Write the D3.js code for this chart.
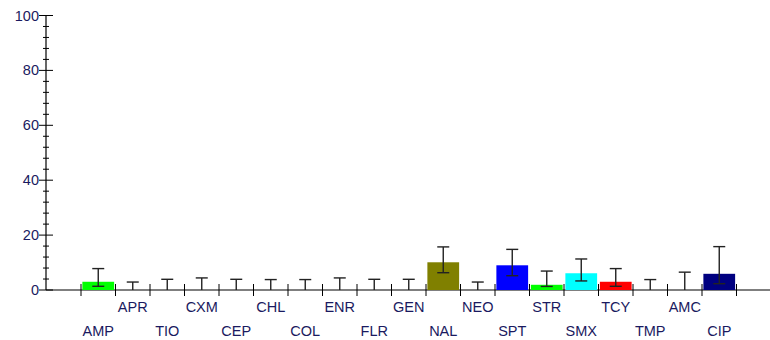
<!DOCTYPE html>
<html>
<head>
<meta charset="utf-8">
<script src="https://cdn.jsdelivr.net/npm/d3@7"></script>
<style>
  body { margin: 0; background: #fff; }
  svg { display: block; font-family: "Liberation Sans", Arial, sans-serif; }
</style>
</head>
<body>
<div id="chart"></div>
<script>
const categories = ["AMP", "APR", "TIO", "CXM", "CEP", "CHL", "COL", "ENR", "FLR", "GEN",
  "NAL", "NEO", "SPT", "STR", "SMX", "TCY", "TMP", "AMC", "CIP"];
const values = [3.0, 0, 0, 0, 0, 0, 0, 0, 0, 0, 10.1, 0, 9.0, 1.9, 6.1, 3.0, 0, 0, 5.9];
const lower = [1.35, 0, 0, 0, 0, 0, 0, 0, 0, 0, 6.3, 0, 5.2, 1.3, 3.3, 1.35, 0, 0, 2.3];
const upper = [7.8, 2.9, 3.9, 4.4, 3.9, 3.8, 3.8, 4.4, 3.9, 3.9, 15.7, 2.9, 14.8, 6.9, 11.3, 7.8, 3.8, 6.5, 15.8];
const colors = ["#00ff00", null, null, null, null, null, null, null, null, null,
  "#808000", null, "#0000ff", "#00ff00", "#00ffff", "#ff0000", null, null, "#000080"];
const yTicks = [0, 20, 40, 60, 80, 100];

const data = categories.map((c, i) => ({
  name: c, value: values[i], lo: lower[i], hi: upper[i], color: colors[i], idx: i
}));

const width = 770;
const height = 340;
const axisX = 46;
const textColor = "#1a1a60";

const svg = d3.select("#chart")
  .append("svg")
  .attr("width", width)
  .attr("height", height);

const y = d3.scaleLinear()
  .domain([0, 100])
  .range([290, 15.5]);

const x = d3.scaleBand()
  .domain(categories)
  .range([81, 736.5])
  .paddingInner(0.08)
  .paddingOuter(0.04);

const step = x.step();
const bandStart = d => x(d) - step * x.paddingInner() / 2;

// y axis: minor ticks every 4, major every 20
const yAxis = svg.append("g");
yAxis.append("line")
  .attr("x1", axisX).attr("x2", axisX)
  .attr("y1", y(100)).attr("y2", y(0))
  .attr("stroke", "#000").attr("stroke-width", 1.2);

yAxis.selectAll(".minor")
  .data(d3.range(0, 101, 4).filter(v => v % 20 !== 0))
  .join("line")
  .attr("x1", axisX - 3).attr("x2", axisX + 3)
  .attr("y1", d => y(d)).attr("y2", d => y(d))
  .attr("stroke", "#000");

yAxis.selectAll(".major")
  .data(yTicks)
  .join("line")
  .attr("x1", axisX - 7).attr("x2", axisX + 7)
  .attr("y1", d => y(d)).attr("y2", d => y(d))
  .attr("stroke", "#000");

yAxis.selectAll("text")
  .data(yTicks)
  .join("text")
  .attr("x", axisX - 7)
  .attr("y", d => y(d))
  .attr("dy", "0.35em")
  .attr("text-anchor", "end")
  .attr("fill", textColor)
  .style("font-size", "14.5px")
  .text(d => d);

// x axis baseline and category ticks
svg.append("line")
  .attr("x1", axisX).attr("x2", width)
  .attr("y1", y(0)).attr("y2", y(0))
  .attr("stroke", "#000").attr("stroke-width", 1.2);

const bounds = categories.map(bandStart).concat([bandStart(categories[categories.length - 1]) + step]);
svg.append("g").selectAll("line")
  .data(bounds)
  .join("line")
  .attr("x1", d => d).attr("x2", d => d)
  .attr("y1", y(0) - 6).attr("y2", y(0) + 6)
  .attr("stroke", "#000");

// bars
svg.append("g").selectAll("rect")
  .data(data.filter(d => d.value > 0))
  .join("rect")
  .attr("x", d => x(d.name))
  .attr("y", d => y(d.value))
  .attr("width", x.bandwidth())
  .attr("height", d => y(0) - y(d.value))
  .attr("fill", d => d.color);

// error bars
const err = svg.append("g").attr("stroke", "#222").attr("stroke-width", 1.4);
data.forEach(d => {
  const cx = x(d.name) + x.bandwidth() / 2;
  err.append("line")
    .attr("x1", cx).attr("x2", cx)
    .attr("y1", y(d.lo)).attr("y2", y(d.hi));
  err.append("line")
    .attr("x1", cx - 6).attr("x2", cx + 6)
    .attr("y1", y(d.hi)).attr("y2", y(d.hi));
  if (d.lo > 0) {
    err.append("line")
      .attr("x1", cx - 6).attr("x2", cx + 6)
      .attr("y1", y(d.lo)).attr("y2", y(d.lo));
  }
});

// staggered category labels
svg.append("g").selectAll("text")
  .data(data)
  .join("text")
  .attr("x", d => x(d.name) + x.bandwidth() / 2)
  .attr("y", d => d.idx % 2 === 0 ? 336 : 312)
  .attr("text-anchor", "middle")
  .attr("fill", textColor)
  .style("font-size", "14.5px")
  .text(d => d.name);
</script>
</body>
</html>
